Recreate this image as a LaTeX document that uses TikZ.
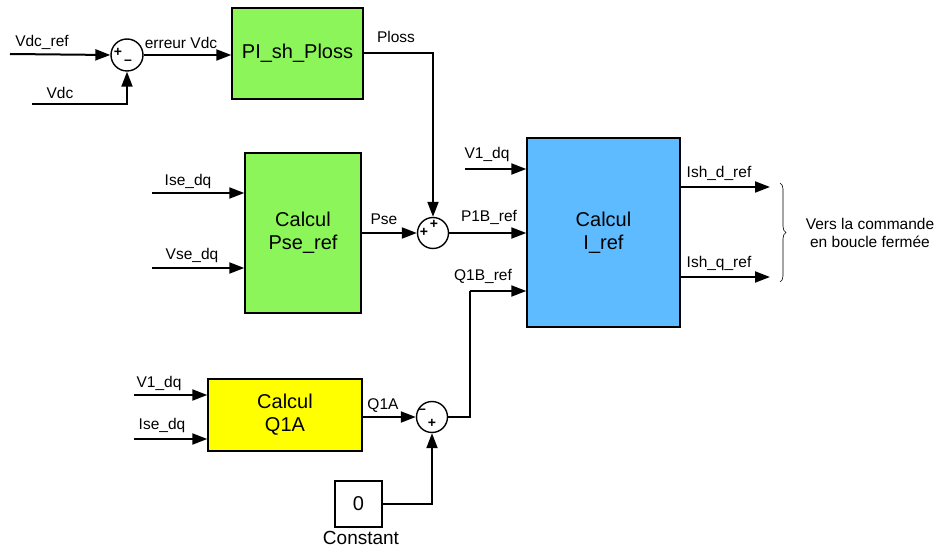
\documentclass[tikz,border=0pt]{standalone}
\usepackage{fontspec}
\setmainfont{Liberation Sans}
\usetikzlibrary{arrows.meta,decorations.pathreplacing}
\begin{document}
\begin{tikzpicture}[x=1pt,y=-1pt,
  blk/.style={draw=black,line width=1.4pt,minimum width=#1,inner sep=0pt,align=center,font=\fontsize{20}{23}\selectfont},
  sumc/.style={draw=black,line width=1.4pt,circle,minimum size=31pt,inner sep=0pt},
  sig/.style={line width=2pt,-{Triangle[length=15pt,width=11pt]}},
  wire/.style={line width=2pt},
  lab/.style={font=\fontsize{15.5}{17}\selectfont,inner sep=0pt},
  sgn/.style={font=\fontsize{14}{14}\selectfont\bfseries,inner sep=0pt}]
\useasboundingbox (0,0) rectangle (937,548);
\definecolor{pgreen}{HTML}{8CF55A}
\definecolor{pblue}{HTML}{5FBBFF}
\definecolor{pyellow}{HTML}{FFFF00}
% blocks
\node[blk=131pt,minimum height=91pt,fill=pgreen] (pi) at (297.5,53.5) {PI\_sh\_Ploss};
\node[blk=116pt,minimum height=160pt,fill=pgreen] (pse) at (303,233) {Calcul\\Pse\_ref};
\node[blk=153pt,minimum height=189pt,fill=pblue] (iref) at (603.5,232.5) {Calcul\\I\_ref};
\node[blk=154pt,minimum height=72pt,fill=pyellow] (q1a) at (285,415) {Calcul\\Q1A};
\node[blk=47pt,minimum height=46pt,fill=white] (cst) at (358.5,504) {0};
\node[lab,font=\fontsize{19}{21}\selectfont] (cstl) at (361,538) {Constant};
% sums
\node[sumc,minimum size=32pt] (s1) at (127,55) {};
\node[sumc] (s2) at (433,233) {};
\node[sumc] (s3) at (432,417) {};
\node[sgn] (s1p) at (118,52) {+};
\node[sgn] (s1m) at (128,62) {\textendash};
\node[sgn] (s2p1) at (434,224) {+};
\node[sgn] (s2p2) at (424,232) {+};
\node[sgn] (s3m) at (422,411) {\textendash};
\node[sgn] (s3p) at (432,423) {+};
% input coordinates
\coordinate (vdcref) at (10,54);
\coordinate (vdc) at (32,104);
\coordinate (ise1) at (152,193);
\coordinate (vse) at (152,268);
\coordinate (v1a) at (465,169);
\coordinate (q1b) at (470,291);
\coordinate (v1b) at (134,395);
\coordinate (ise2) at (134,439);
\coordinate (ishd) at (770,187);
\coordinate (ishq) at (770,277);
% connectors
\draw[sig] (vdcref) -- (s1.west);
\draw[sig] (vdc) -| (s1.south);
\draw[sig] (s1.east) -- (s1.east -| pi.west);
\draw[sig] (pi.east) -| (s2.north);
\draw[sig] (ise1) -- (ise1 -| pse.west);
\draw[sig] (vse) -- (vse -| pse.west);
\draw[sig] (pse.east |- s2) -- (s2.west);
\draw[sig] (v1a) -- (v1a -| iref.west);
\draw[sig] (s2.east) -- (s2.east -| iref.west);
\draw[wire] (s3.east) -| (q1b);
\draw[sig] (q1b) -- (q1b -| iref.west);
\draw[sig] (ishd -| iref.east) -- (ishd);
\draw[sig] (ishq -| iref.east) -- (ishq);
\draw[sig] (v1b) -- (v1b -| q1a.west);
\draw[sig] (ise2) -- (ise2 -| q1a.west);
\draw[sig] (q1a.east |- s3) -- (s3.west);
\draw[sig] (cst.east) -| (s3.south);
% labels
\node[lab] (l1) at (42,42) {Vdc\_ref};
\node[lab] (l2) at (60,93) {Vdc};
\node[lab] (l3) at (181,43) {erreur Vdc};
\node[lab] (l4) at (396,37) {Ploss};
\node[lab] (l5) at (188,181) {Ise\_dq};
\node[lab] (l6) at (192,255) {Vse\_dq};
\node[lab] (l7) at (384,219) {Pse};
\node[lab] (l8) at (489,217) {P1B\_ref};
\node[lab] (l9) at (487,154) {V1\_dq};
\node[lab] (l10) at (483,276) {Q1B\_ref};
\node[lab] (l11) at (719,173) {Ish\_d\_ref};
\node[lab] (l12) at (719,263) {Ish\_q\_ref};
\node[lab] (l13) at (159,383) {V1\_dq};
\node[lab] (l14) at (162,425) {Ise\_dq};
\node[lab] (l15) at (383,406) {Q1A};
% brace
\draw[line width=0.6pt,decorate,decoration={brace,amplitude=6pt}] (780,183) -- (780,282);
\node[lab,align=center] (vers) at (870,233) {Vers la commande\\[1pt]en boucle fermée};
\end{tikzpicture}
\end{document}
